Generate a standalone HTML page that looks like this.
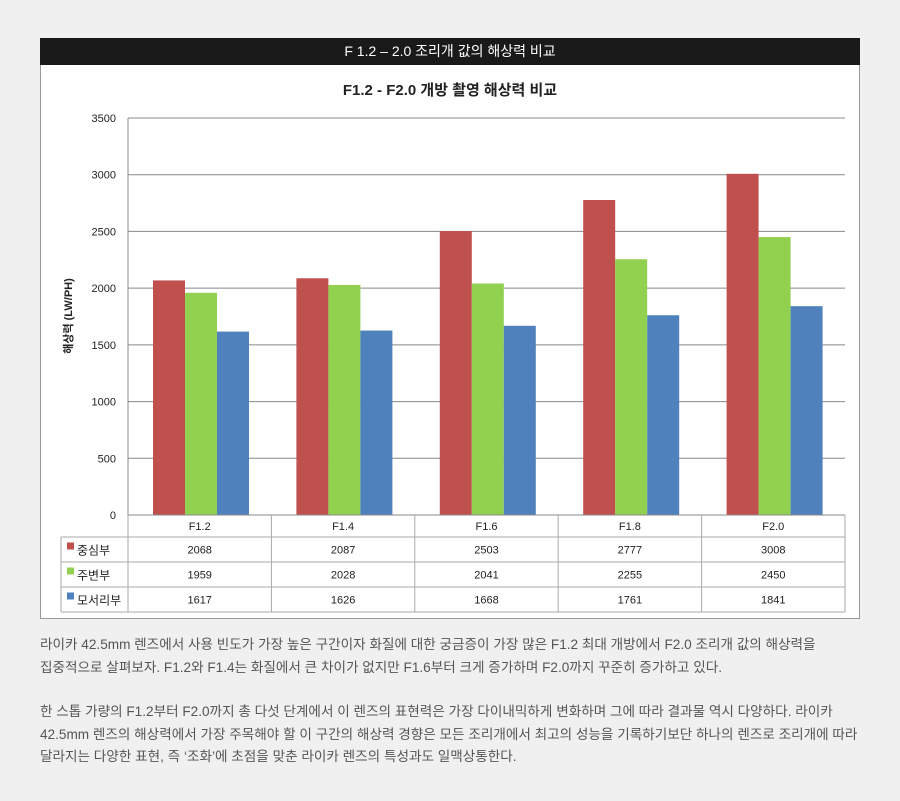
<!DOCTYPE html>
<html><head><meta charset="utf-8"><style>
body{margin:0;background:#f0f0f0;width:900px;height:801px;overflow:hidden;font-family:"Liberation Sans","Noto Sans CJK KR",sans-serif;position:relative}
#hdr{position:absolute;left:40px;top:38px;width:820px;height:27px;background:#1a1a1a;color:#fff;font-size:14px;text-align:center;line-height:27px}
#box{position:absolute;left:40px;top:65px;width:818px;height:553px;background:#fff;border:1px solid #999;border-top:none}
.p{position:absolute;left:40px;width:850px;font-size:13.6px;color:#555;line-height:22.5px;white-space:nowrap}
</style></head><body>
<div id="hdr">F 1.2 – 2.0 조리개 값의 해상력 비교</div>
<div id="box"></div>
<svg id="c" width="900" height="801" style="position:absolute;left:0;top:0"></svg>
<div class="p" style="top:634px">라이카 42.5mm 렌즈에서 사용 빈도가 가장 높은 구간이자 화질에 대한 궁금증이 가장 많은 F1.2 최대 개방에서 F2.0 조리개 값의 해상력을<br>집중적으로 살펴보자. F1.2와 F1.4는 화질에서 큰 차이가 없지만 F1.6부터 크게 증가하며 F2.0까지 꾸준히 증가하고 있다.</div>
<div class="p" style="top:701px">한 스톱 가량의 F1.2부터 F2.0까지 총 다섯 단계에서 이 렌즈의 표현력은 가장 다이내믹하게 변화하며 그에 따라 결과물 역시 다양하다. 라이카<br>42.5mm 렌즈의 해상력에서 가장 주목해야 할 이 구간의 해상력 경향은 모든 조리개에서 최고의 성능을 기록하기보단 하나의 렌즈로 조리개에 따라<br>달라지는 다양한 표현, 즉 ‘조화’에 초점을 맞춘 라이카 렌즈의 특성과도 일맥상통한다.</div>
<script>
const categories=["F1.2","F1.4","F1.6","F1.8","F2.0"];
const seriesNames=["중심부","주변부","모서리부"];
const center=[2068,2087,2503,2777,3008];
const edge=[1959,2028,2041,2255,2450];
const corner=[1617,1626,1668,1761,1841];
const yTicks=[0,500,1000,1500,2000,2500,3000,3500];
const colors=["#c0504d","#92d050","#4f81bd"];
const series=[center,edge,corner];
const svg=document.getElementById('c');const NS="http://www.w3.org/2000/svg";
const X0=128,X1=845,Y0=515,Y1=118,YMAX=3500;
const y=v=>Y0-(v/YMAX)*(Y0-Y1);
const cw=(X1-X0)/categories.length;
const x=i=>X0+i*cw;
function mk(t,a,txt){const e=document.createElementNS(NS,t);for(const k in a)e.setAttribute(k,a[k]);if(txt!=null)e.textContent=txt;svg.appendChild(e);return e;}
const f='"Liberation Sans","Noto Sans CJK KR",sans-serif';
let t=mk('text',{x:450,y:95,'text-anchor':'middle','font-size':15,'font-weight':'bold','font-family':f,fill:'#222'},'F1.2 - F2.0 개방 촬영 해상력 비교');


yTicks.forEach(v=>{
 const l=mk('line',{x1:X0,x2:X1,y1:y(v),y2:y(v),stroke:'#888','stroke-width':1});
 
 
 const tx=mk('text',{x:116,y:y(v)+4,'text-anchor':'end','font-size':11,'font-family':f,fill:'#222'},v);
 
 
});
mk('line',{x1:X0,x2:X0,y1:Y1,y2:Y0,stroke:'#888'});
t=mk('text',{x:0,y:0,transform:'translate(72,316) rotate(-90)','text-anchor':'middle','font-size':11,'font-weight':'bold','font-family':f,fill:'#222'},'해상력 (LW/PH)');


const bw=32,off=25;
series.forEach((s,si)=>s.forEach((v,i)=>{
 const r=mk('rect',{x:x(i)+off+si*bw,y:y(v),width:bw,height:Y0-y(v),fill:colors[si]});
 
 
}));
const rowY=[515,537,562,587,612];
const TL=61;
mk('line',{x1:X0,x2:X1,y1:515,y2:515,stroke:'#888'});
for(let r=1;r<rowY.length;r++)mk('line',{x1:TL,x2:X1,y1:rowY[r],y2:rowY[r],stroke:'#aaa'});
mk('line',{x1:TL,x2:TL,y1:537,y2:612,stroke:'#aaa'});
for(let i=0;i<=categories.length;i++)mk('line',{x1:x(i),x2:x(i),y1:515,y2:612,stroke:'#aaa'});
categories.forEach((c,i)=>{
 const e=mk('text',{x:x(i)+cw/2,y:530,'text-anchor':'middle','font-size':11,'font-family':f,fill:'#222'},c);
 
 
});
series.forEach((s,si)=>{
 const cy=(rowY[si+1]+rowY[si+2])/2;
 const sw=mk('rect',{x:67,y:cy-7,width:7,height:7,fill:colors[si]});
 
 
 const ln=mk('text',{x:77,y:cy+5,'font-size':12,'font-family':f,fill:'#222'},seriesNames[si]);
 
 
 s.forEach((v,i)=>{
  const e=mk('text',{x:x(i)+cw/2,y:cy+4,'text-anchor':'middle','font-size':11,'font-family':f,fill:'#222'},v);
  
  
 });
});
</script>
</body></html>
